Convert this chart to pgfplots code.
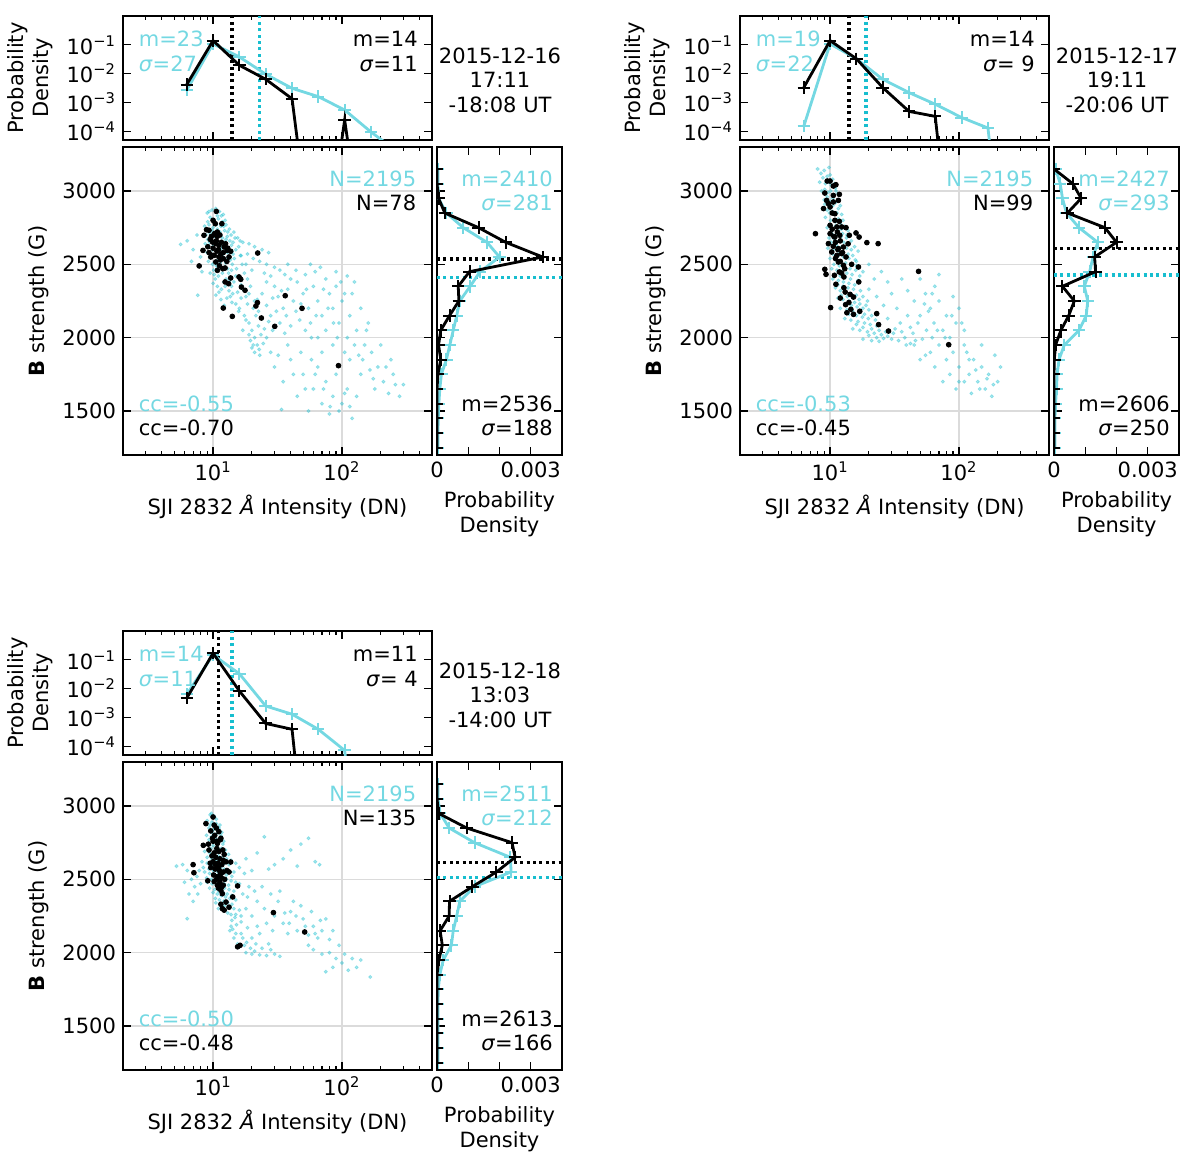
\documentclass[border=0pt]{standalone}
\usepackage{fontspec}
\setmainfont{DejaVu Sans}
\usepackage{pgfplots}
\pgfplotsset{compat=1.18}
\definecolor{cL}{RGB}{116,216,226}
\definecolor{cD}{RGB}{23,190,207}
\newcommand{\fs}{\fontsize{10.5}{12.3}\selectfont}
\newcommand{\sig}{\textit{σ}}
\begin{document}
\begin{tikzpicture}
\path[use as bounding box] (0,0) rectangle (600pt,-585pt);

%================ PANEL 1 =================
\begin{axis}[anchor=north west, at={(61.5pt,-8pt)}, scale only axis, width=154.5pt, height=62pt,
   axis line style={line width=0.8pt}, tick style={black, line width=0.6pt},
   tick align=inside, major tick length=4pt, minor tick length=2.2pt, xtick pos=both, ytick pos=both,
   clip marker paths=true, tick label style={font=\fs}, label style={font=\fs},
   xmode=log, ymode=log, xmin=2, xmax=500, ymin=5e-5, ymax=1,
   xtick={10,100}, xticklabels={,,}, minor xtick={2,3,4,5,6,7,8,9,20,30,40,50,60,70,80,90,200,300,400,500},
   ytick={1e-4,1e-3,1e-2,1e-1}, yticklabels={10\textsuperscript{−4},10\textsuperscript{−3},10\textsuperscript{−2},10\textsuperscript{−1}},
   yminorticks=false, ylabel={Probability\\Density}, ylabel style={align=center}]
\addplot[cD, line width=1.6pt, dash pattern=on 1.5pt off 1.7pt] coordinates {(23,5e-5)(23,1)};
\addplot[black, line width=1.6pt, dash pattern=on 1.5pt off 1.7pt] coordinates {(14,5e-5)(14,1)};
\addplot[cL, line width=1.4pt, mark=+, mark size=3.1pt, mark options={line width=1pt}] coordinates {(6.25,2.7e-3)(10,0.108)(16,0.038)(25.6,9.6e-3)(41,3.1e-3)(65.5,1.6e-3)(105,5.5e-4)(168,9.5e-5)(268,2e-5)};
\addplot[black, line width=1.4pt, mark=+, mark size=3.1pt, mark options={line width=1pt}] coordinates {(6.25,4.2e-3)(10,0.14)(16,0.0195)(25.6,6.4e-3)(41,1.35e-3)(65.5,1e-10)(105,2.5e-4)(168,1e-10)};
\node[cL, anchor=north west, align=left, inner sep=0, font=\fs] at (axis description cs:0.05,0.88) {m=23\\\sig=27};
\node[black, anchor=north east, align=right, inner sep=0, font=\fs] at (axis description cs:0.955,0.88) {m=14\\\sig=11};
\end{axis}
\node[align=center, font=\fs] at (250pt,-40pt) {2015-12-16\\17:11\\-18:08 UT};

\begin{axis}[anchor=north west, at={(61.5pt,-73.5pt)}, scale only axis, width=154.5pt, height=154pt,
   axis line style={line width=0.8pt}, tick style={black, line width=0.6pt},
   tick align=inside, major tick length=4pt, minor tick length=2.2pt, xtick pos=both, ytick pos=both,
   clip marker paths=true, tick label style={font=\fs}, label style={font=\fs},
   xmode=log, xmin=2, xmax=500, ymin=1200, ymax=3300,
   xtick={10,100}, xticklabels={10\textsuperscript{1},10\textsuperscript{2}}, minor xtick={2,3,4,5,6,7,8,9,20,30,40,50,60,70,80,90,200,300,400,500},
   ytick={1500,2000,2500,3000}, yticklabels={1500,2000,2500,3000}, xmajorgrids, ymajorgrids, major grid style={black!14, line width=0.7pt},
   xlabel={SJI 2832 \textit{Å} Intensity (DN)}, ylabel={\textbf{B} strength (G)}]
\addplot[only marks, mark=*, mark size=0.8pt, color=cD, opacity=0.35, mark options={draw=cD, fill=cD}] coordinates {
(9.0,2850)(9.8,2870)(10.5,2880)(11.2,2860)(12.0,2840)(9.5,2820)(10.2,2800)(11.0,2810)(11.8,2790)(12.6,2770)
(8.6,2760)(9.3,2770)(10.0,2750)(10.8,2740)(11.5,2760)(12.3,2730)(13.0,2720)(13.8,2700)
(8.8,2700)(9.5,2710)(10.3,2690)(11.0,2700)(11.8,2680)(12.6,2670)(13.5,2660)(14.3,2650)
(8.7,2640)(9.4,2650)(10.1,2630)(10.9,2640)(11.7,2620)(12.4,2610)(13.2,2600)(14.0,2590)(15.0,2600)
(9.0,2580)(9.7,2570)(10.4,2560)(11.2,2575)(12.0,2550)(12.8,2540)(13.6,2530)(14.6,2540)
(9.2,2520)(9.9,2500)(10.6,2490)(11.4,2510)(12.2,2480)(13.0,2470)(13.9,2460)(15.2,2470)
(9.5,2440)(10.2,2430)(11.0,2420)(11.8,2440)(12.6,2400)(13.5,2390)(14.5,2380)(16.0,2400)
(10.0,2370)(10.8,2350)(11.6,2330)(12.4,2350)(13.3,2320)(14.2,2300)(15.5,2310)(17.0,2330)
(10.5,2290)(11.5,2260)(12.8,2270)(14.0,2240)(15.0,2230)
(15.5,2680)(17.0,2650)(19.0,2640)(21.0,2620)(24.0,2600)(27.0,2580)(16.5,2560)(18.5,2570)(20.5,2540)(23.0,2520)
(26.0,2500)(30.0,2480)(33.0,2460)(22.0,2580)(18.0,2500)(20.0,2460)(25.0,2440)(28.0,2420)(36.0,2430)(40.0,2400)
(16.0,2200)(17.5,2150)(18.0,2280)(19.5,2350)(21.0,2250)(22.5,2180)(24.0,2300)(26.0,2220)(28.0,2150)(30.0,2350)
(32.0,2280)(35.0,2200)(38.0,2330)(42.0,2250)(45.0,2380)(50.0,2300)(55.0,2200)(60.0,2350)(47.0,2120)(40.0,2080)
(36.0,2030)(33.0,2100)(29.0,2050)(26.0,2000)(52.0,2050)(58.0,2000)(65.0,2250)(70.0,2150)(75.0,2400)(68.0,2480)
(62.0,2450)(80.0,2300)(85.0,2200)(90.0,2350)
(19.0,2100)(20.0,2050)(21.0,2000)(22.0,1950)(21.5,2150)(20.5,2200)(22.5,2080)(23.5,2020)(19.5,1980)(21.0,1900)
(23.0,1880)(20.0,1930)(24.5,1960)(18.5,2230)(22.0,2260)(24.0,2130)
(95.0,2100)(100.0,2250)(110.0,2000)(115.0,2150)(120.0,2300)(130.0,2050)(140.0,2200)(150.0,1950)(105.0,1900)
(85.0,1950)(75.0,2050)(125.0,2380)(160.0,2100)(135.0,1880)(70.0,1900)(65.0,2000)(90.0,2450)(110.0,2420)
(170.0,1900)(190.0,1800)(210.0,1700)(230.0,1620)(250.0,1750)(280.0,1600)(200.0,1950)(180.0,1650)(300.0,1680)(240.0,1850)
(30.0,1800)(35.0,1700)(40.0,1850)(45.0,1600)(50.0,1750)(55.0,1500)(60.0,1650)(65.0,1800)(70.0,1550)(75.0,1700)
(80.0,1480)(85.0,1600)(90.0,1750)(100.0,1550)(110.0,1650)(120.0,1450)(130.0,1600)(34.0,1510)(81.0,1530)(140.0,1750)
(28.0,1900)(38.0,1950)(48.0,1900)(58.0,1850)
(5.6,2636)(6.3,2660)(7.0,2600)(7.6,2289)(7.5,2700)(8.0,2550)(8.2,2450)(6.8,2520)
(9.3,2860)(10.8,2830)(11.6,2830)(12.4,2800)(9.1,2790)(10.6,2770)(12.1,2760)(13.4,2740)(14.5,2720)(9.8,2730)
(11.3,2720)(12.9,2690)(14.8,2680)(16.2,2660)(9.1,2670)(10.6,2660)(12.2,2650)(13.9,2630)(15.8,2620)(9.9,2600)
(11.4,2600)(12.9,2580)(14.3,2570)(16.3,2560)(9.4,2550)(10.9,2530)(12.5,2510)(14.1,2500)(16.8,2500)(10.1,2460)
(11.6,2480)(13.2,2440)(15.0,2420)(17.5,2440)(10.4,2400)(12.1,2380)(13.9,2350)(16.5,2360)(18.5,2400)(11.1,2310)
(13.6,2280)(16.5,2270)(19.0,2300)(12.2,2220)(15.8,2180)(18.0,2120)(17.0,2050)(19.0,2020)(20.5,1950)(22.8,1920)
(25.0,2060)(27.0,2110)(31.0,2180)(34.0,2320)(37.0,2150)(44.0,2180)(48.0,2230)(53.0,2330)(57.0,2100)(63.0,2150)
(72.0,2330)(78.0,2200)(86.0,2100)(92.0,2000)(98.0,2380)(105.0,2300)(115.0,1850)(125.0,1950)(145.0,1850)(155.0,2050)
(165.0,1780)(175.0,1720)(220.0,1800)(260.0,1680)(32.0,1880)(42.0,1750)(52.0,1650)(62.0,1750)(72.0,1650)(95.0,1500)
(105.0,1620)(115.0,1530)(26.0,2380)(29.0,2270)(38.0,2500)(44.0,2460)(52.0,2430)(57.0,2500)
};
\addplot[only marks, mark=*, mark size=1.2pt, mark options={draw=none, fill=black}] coordinates {
(10.6,2861)(10.0,2800)(10.4,2777)(11.7,2777)(8.9,2736)(9.3,2732)(8.5,2698)(10.2,2702)(10.8,2691)(9.5,2670)
(9.9,2652)(10.5,2641)(11.1,2630)(12.2,2618)(12.9,2595)(13.7,2589)(8.35,2595)(9.3,2580)(10.2,2561)(11.1,2550)
(12.0,2539)(13.3,2550)(10.5,2516)(7.8,2489)(10.8,2459)(12.4,2475)(13.7,2407)(15.9,2414)(16.4,2398)(12.4,2380)
(13.2,2368)(16.6,2345)(17.7,2323)(22.2,2577)(36.3,2286)(22.1,2239)(21.5,2216)(12.0,2202)(14.1,2145)(23.7,2134)
(30.1,2077)(49,2200)(94,1809)
(10.8,2720)(11.3,2700)(9.7,2690)(10.6,2660)(11.6,2650)(12.5,2640)(9.1,2620)(10.0,2610)(11.0,2600)(12.0,2580)
(10.7,2590)(11.5,2570)(9.6,2550)(12.8,2520)(11.2,2490)(11.9,2470)(10.3,2710)(13.0,2610)(9.9,2560)(11.4,2530)
};
\node[cL, anchor=north east, inner sep=0, font=\fs] at (axis description cs:0.95,0.925) {N=2195};
\node[black, anchor=north east, inner sep=0, font=\fs] at (axis description cs:0.95,0.845) {N=78};
\node[cL, anchor=south west, inner sep=0, font=\fs] at (axis description cs:0.05,0.14) {cc=-0.55};
\node[black, anchor=south west, inner sep=0, font=\fs] at (axis description cs:0.05,0.06) {cc=-0.70};
\end{axis}

\begin{axis}[anchor=north west, at={(218.5pt,-73.5pt)}, scale only axis, width=62.5pt, height=154pt,
   axis line style={line width=0.8pt}, tick style={black, line width=0.6pt},
   tick align=inside, major tick length=4pt, minor tick length=2.2pt, xtick pos=both, ytick pos=both,
   clip marker paths=true, tick label style={font=\fs}, label style={font=\fs}, scaled ticks=false,
   xmin=0, xmax=0.004, ymin=1200, ymax=3300,
   ytick={1500,2000,2500,3000}, yticklabels={,,,}, xtick={0,0.001,0.002,0.003}, xticklabels={0,,,0.003},
   xlabel={Probability\\Density}, xlabel style={align=center}]
\addplot[black, line width=1.6pt, dash pattern=on 1.5pt off 1.7pt] coordinates {(0,2536)(0.004,2536)};
\addplot[cD, line width=1.6pt, dash pattern=on 1.5pt off 1.7pt] coordinates {(0,2410)(0.004,2410)};
\addplot[cL, line width=1.4pt, mark=+, mark size=3.1pt, mark options={line width=1pt}] coordinates {(0.00003,3150)(0.00003,3050)(0.00005,2950)(0.0003,2850)(0.00084,2750)(0.0016,2650)(0.002,2550)(0.00138,2450)(0.00106,2350)(0.00073,2250)(0.00063,2150)(0.00052,2050)(0.00041,1950)(0.0003,1850)(0.00014,1750)(0.00009,1650)(0.00006,1550)(0.00004,1450)(0.00003,1350)(0.00003,1250)};
\addplot[black, line width=1.4pt, mark=+, mark size=3.1pt, mark options={line width=1pt}] coordinates {(0,3150)(0,3050)(0.00005,2950)(0.00025,2850)(0.00133,2750)(0.0022,2650)(0.00338,2550)(0.00104,2450)(0.00068,2350)(0.0007,2250)(0.0004,2150)(0.00012,2050)(0.00005,1950)(0.00012,1850)(0.00003,1750)(0,1650)(0,1550)(0,1450)(0,1350)(0,1250)};
\node[cL, anchor=north east, align=right, inner sep=0, font=\fs] at (axis description cs:0.93,0.925) {m=2410\\\sig=281};
\node[black, anchor=south east, align=right, inner sep=0, font=\fs] at (axis description cs:0.93,0.06) {m=2536\\\sig=188};
\end{axis}

%================ PANEL 2 =================
\begin{axis}[anchor=north west, at={(370pt,-8pt)}, scale only axis, width=154.5pt, height=62pt,
   axis line style={line width=0.8pt}, tick style={black, line width=0.6pt},
   tick align=inside, major tick length=4pt, minor tick length=2.2pt, xtick pos=both, ytick pos=both,
   clip marker paths=true, tick label style={font=\fs}, label style={font=\fs},
   xmode=log, ymode=log, xmin=2, xmax=500, ymin=5e-5, ymax=1,
   xtick={10,100}, xticklabels={,,}, minor xtick={2,3,4,5,6,7,8,9,20,30,40,50,60,70,80,90,200,300,400,500},
   ytick={1e-4,1e-3,1e-2,1e-1}, yticklabels={10\textsuperscript{−4},10\textsuperscript{−3},10\textsuperscript{−2},10\textsuperscript{−1}},
   yminorticks=false, ylabel={Probability\\Density}, ylabel style={align=center}]
\addplot[cD, line width=1.6pt, dash pattern=on 1.5pt off 1.7pt] coordinates {(19,5e-5)(19,1)};
\addplot[black, line width=1.6pt, dash pattern=on 1.5pt off 1.7pt] coordinates {(14,5e-5)(14,1)};
\addplot[cL, line width=1.4pt, mark=+, mark size=3.1pt, mark options={line width=1pt}] coordinates {(6.25,1.5e-4)(10,0.108)(16,0.033)(25.6,6.4e-3)(41,2.2e-3)(65.5,8.7e-4)(105,3.0e-4)(168,1.3e-4)(268,1e-12)};
\addplot[black, line width=1.4pt, mark=+, mark size=3.1pt, mark options={line width=1pt}] coordinates {(6.25,3.3e-3)(10,0.14)(16,0.033)(25.6,3.3e-3)(41,4.9e-4)(65.5,3.3e-4)(105,1e-12)};
\node[cL, anchor=north west, align=left, inner sep=0, font=\fs] at (axis description cs:0.05,0.88) {m=19\\\sig=22};
\node[black, anchor=north east, align=right, inner sep=0, font=\fs] at (axis description cs:0.955,0.88) {m=14\\\sig= 9};
\end{axis}
\node[align=center, font=\fs] at (558.5pt,-40pt) {2015-12-17\\19:11\\-20:06 UT};

\begin{axis}[anchor=north west, at={(370pt,-73.5pt)}, scale only axis, width=154.5pt, height=154pt,
   axis line style={line width=0.8pt}, tick style={black, line width=0.6pt},
   tick align=inside, major tick length=4pt, minor tick length=2.2pt, xtick pos=both, ytick pos=both,
   clip marker paths=true, tick label style={font=\fs}, label style={font=\fs},
   xmode=log, xmin=2, xmax=500, ymin=1200, ymax=3300,
   xtick={10,100}, xticklabels={10\textsuperscript{1},10\textsuperscript{2}}, minor xtick={2,3,4,5,6,7,8,9,20,30,40,50,60,70,80,90,200,300,400,500},
   ytick={1500,2000,2500,3000}, yticklabels={1500,2000,2500,3000}, xmajorgrids, ymajorgrids, major grid style={black!14, line width=0.7pt},
   xlabel={SJI 2832 \textit{Å} Intensity (DN)}, ylabel={\textbf{B} strength (G)}]
\addplot[only marks, mark=*, mark size=0.8pt, color=cD, opacity=0.35, mark options={draw=cD, fill=cD}] coordinates {
(8.0,3150)(8.5,3120)(9.0,3140)(9.5,3100)(10.0,3110)(10.5,3080)(8.3,3060)(9.2,3050)(10.2,3040)(11.0,3020)
(8.6,3000)(9.6,2990)(10.6,2970)(11.5,2980)(9.0,2940)(10.0,2930)(11.0,2920)(12.0,2900)(8.7,2880)(9.5,2870)
(10.4,2860)(11.3,2850)(12.3,2840)
(9.2,2820)(10.1,2800)(11.0,2790)(12.0,2780)(13.0,2760)(9.5,2750)(10.5,2740)(11.5,2730)(12.5,2710)(13.5,2700)
(9.8,2680)(10.8,2670)(11.8,2660)(12.8,2650)(14.0,2640)(15.5,2620)(9.6,2610)(10.6,2600)(11.6,2590)(12.6,2580)
(13.8,2570)(15.0,2560)(10.0,2540)(11.0,2530)(12.0,2520)(13.2,2510)(14.5,2500)(16.0,2490)(10.3,2470)(11.3,2460)
(12.3,2450)(13.5,2440)(14.8,2430)(17.0,2420)(10.5,2400)(11.6,2390)(12.7,2380)(14.0,2370)(15.5,2360)
(11.0,2340)(12.0,2320)(13.2,2310)(14.5,2300)(16.0,2290)(18.0,2280)(11.5,2270)(12.6,2260)(14.0,2250)(15.5,2240)
(17.0,2230)(19.0,2220)(12.0,2200)(13.5,2190)(15.0,2180)(16.8,2170)(18.5,2160)(21.0,2150)(13.0,2130)(14.5,2120)
(16.5,2110)(18.5,2100)(20.5,2090)(23.0,2080)(15.0,2060)(17.0,2050)(19.5,2040)(22.0,2030)(25.0,2020)(28.0,2010)
(18.0,1990)(21.0,1980)(24.0,1975)(30.0,1990)(34.0,1980)(38.0,2000)(42.0,1960)
(16.0,2520)(18.0,2450)(20.0,2500)(22.0,2400)(25.0,2450)(28.0,2380)(20.0,2330)(23.0,2280)(26.0,2220)(30.0,2300)
(33.0,2200)(36.0,2400)(40.0,2320)(45.0,2250)(50.0,2400)(55.0,2300)(60.0,2200)(65.0,2350)(70.0,2250)(80.0,2150)
(90.0,2280)(100.0,2200)(48.0,2100)(56.0,2050)(64.0,2100)(75.0,2050)(85.0,2000)(95.0,2100)(110.0,2050)(35.0,2100)
(40.0,2150)(28.0,2130)(32.0,2060)(44.0,2030)(52.0,1990)(58.0,2180)(70.0,2430)(62.0,2000)
(60.0,1900)(70.0,1950)(80.0,1850)(90.0,1900)(100.0,1800)(110.0,1950)(120.0,1750)(130.0,1850)(140.0,1700)(150.0,1800)
(160.0,1650)(170.0,1750)(180.0,1600)(200.0,1700)(210.0,1800)(75.0,1700)(85.0,1750)(95.0,1650)(110.0,1700)(125.0,1620)
(50.0,1850)(45.0,1950)(190.0,1880)(150.0,1950)
(9.8,3160)(8.8,3090)(9.8,3060)(10.8,3050)(9.1,3010)(10.1,3000)(11.1,3000)(9.5,2960)(10.5,2950)(11.5,2940)
(9.1,2910)(10.5,2900)(11.6,2880)(9.9,2850)(11.6,2810)(12.6,2800)(9.9,2770)(11.0,2760)(12.2,2740)(13.8,2730)
(10.3,2710)(11.1,2700)(12.2,2690)(13.4,2680)(14.6,2660)(10.2,2650)(11.2,2630)(12.3,2620)(13.4,2610)(14.6,2600)
(16.5,2590)(10.5,2570)(11.6,2560)(12.7,2550)(14.0,2540)(15.7,2530)(10.7,2500)(11.8,2490)(13.0,2480)(14.3,2470)
(15.8,2460)(11.0,2430)(12.0,2420)(13.1,2410)(14.4,2400)(16.5,2390)(11.5,2360)(12.6,2350)(13.8,2340)(15.2,2330)
(17.2,2320)(12.2,2290)(13.6,2280)(15.0,2270)(16.8,2260)(19.5,2250)(13.0,2230)(14.6,2220)(16.2,2210)(18.0,2200)
(20.0,2190)(14.0,2160)(16.0,2150)(17.8,2140)(19.8,2130)(22.5,2120)(16.0,2090)(18.0,2070)(21.0,2060)(24.0,2050)
(27.0,2040)(20.0,2015)(23.0,2000)(26.0,1995)(31.0,2030)(36.0,2040)(39.0,1950)(46.0,1980)(42.0,2070)(50.0,2150)
(54.0,2230)(62.0,2300)(68.0,2050)(78.0,2000)(88.0,2150)(105.0,2100)(115.0,1900)(135.0,1780)(145.0,1650)(165.0,1720)
(185.0,1680)(55.0,1880)(65.0,1800)(100.0,1700)(120.0,1850)
};
\addplot[only marks, mark=*, mark size=1.2pt, mark options={draw=none, fill=black}] coordinates {
(9.5,3068)(10,3068)(10.6,3034)(11.1,3043)(9.1,2986)(10.6,2970)(11.8,2977)(9.4,2936)(9.7,2914)(10.6,2925)
(11.6,2936)(8.9,2880)(10,2891)(10.9,2845)(11.8,2793)(10,2766)(11.3,2755)(12.3,2755)(13.3,2750)(7.7,2709)
(10,2709)(10.9,2686)(11.9,2698)(14.1,2698)(15.9,2714)(16.8,2686)(19.3,2648)(23.6,2641)(9.7,2641)(10.6,2623)
(11.6,2607)(12.7,2618)(10.3,2584)(11.3,2561)(12.3,2573)(13.3,2550)(11.6,2516)(12.7,2493)(14.7,2500)(16.6,2482)
(9.1,2466)(9.3,2432)(10.8,2425)(11.8,2448)(12.8,2414)(16.7,2380)(48.6,2452)(11.1,2364)(13.1,2311)(14.3,2295)
(15.2,2277)(12.0,2270)(13.2,2225)(14.5,2193)(13.5,2170)(15.2,2159)(10.1,2205)(17.0,2180)(23.0,2164)(23.8,2089)
(28.4,2045)(83.3,1952)
(10.4,2850)(10.9,2800)(11.4,2720)(10.4,2740)(12.0,2660)(11.0,2650)(12.5,2580)(11.0,2540)(12.0,2520)(13.0,2470)
(12.3,2440)(11.5,2600)(10.7,2690)(13.8,2640)(12.8,2340)(14.0,2240)
};
\node[cL, anchor=north east, inner sep=0, font=\fs] at (axis description cs:0.95,0.925) {N=2195};
\node[black, anchor=north east, inner sep=0, font=\fs] at (axis description cs:0.95,0.845) {N=99};
\node[cL, anchor=south west, inner sep=0, font=\fs] at (axis description cs:0.05,0.14) {cc=-0.53};
\node[black, anchor=south west, inner sep=0, font=\fs] at (axis description cs:0.05,0.06) {cc=-0.45};
\end{axis}

\begin{axis}[anchor=north west, at={(527pt,-73.5pt)}, scale only axis, width=62.5pt, height=154pt,
   axis line style={line width=0.8pt}, tick style={black, line width=0.6pt},
   tick align=inside, major tick length=4pt, minor tick length=2.2pt, xtick pos=both, ytick pos=both,
   clip marker paths=true, tick label style={font=\fs}, label style={font=\fs}, scaled ticks=false,
   xmin=0, xmax=0.004, ymin=1200, ymax=3300,
   ytick={1500,2000,2500,3000}, yticklabels={,,,}, xtick={0,0.001,0.002,0.003}, xticklabels={0,,,0.003},
   xlabel={Probability\\Density}, xlabel style={align=center}]
\addplot[black, line width=1.6pt, dash pattern=on 1.5pt off 1.7pt] coordinates {(0,2606)(0.004,2606)};
\addplot[cD, line width=1.6pt, dash pattern=on 1.5pt off 1.7pt] coordinates {(0,2427)(0.004,2427)};
\addplot[cL, line width=1.4pt, mark=+, mark size=3.1pt, mark options={line width=1pt}] coordinates {(0.00005,3150)(0.0002,3050)(0.00027,2950)(0.0004,2850)(0.0008,2750)(0.0014,2650)(0.00125,2550)(0.00114,2450)(0.00097,2350)(0.00108,2250)(0.00103,2150)(0.0008,2050)(0.00033,1950)(0.00016,1850)(0.0001,1750)(0.00008,1650)(0.00005,1550)(0.00003,1450)(0.00003,1350)(0.00003,1250)};
\addplot[black, line width=1.4pt, mark=+, mark size=3.1pt, mark options={line width=1pt}] coordinates {(0,3150)(0.0006,3050)(0.00087,2950)(0.00043,2850)(0.00163,2750)(0.002,2650)(0.0013,2550)(0.00133,2450)(0.00027,2350)(0.00065,2250)(0.00047,2150)(0.00022,2050)(0.00005,1950)(0.00001,1850)(0,1750)(0,1650)(0,1550)(0,1450)(0,1350)(0,1250)};
\node[cL, anchor=north east, align=right, inner sep=0, font=\fs] at (axis description cs:0.93,0.925) {m=2427\\\sig=293};
\node[black, anchor=south east, align=right, inner sep=0, font=\fs] at (axis description cs:0.93,0.06) {m=2606\\\sig=250};
\end{axis}

%================ PANEL 3 =================
\begin{axis}[anchor=north west, at={(61.5pt,-315.5pt)}, scale only axis, width=154.5pt, height=62pt,
   axis line style={line width=0.8pt}, tick style={black, line width=0.6pt},
   tick align=inside, major tick length=4pt, minor tick length=2.2pt, xtick pos=both, ytick pos=both,
   clip marker paths=true, tick label style={font=\fs}, label style={font=\fs},
   xmode=log, ymode=log, xmin=2, xmax=500, ymin=5e-5, ymax=1,
   xtick={10,100}, xticklabels={,,}, minor xtick={2,3,4,5,6,7,8,9,20,30,40,50,60,70,80,90,200,300,400,500},
   ytick={1e-4,1e-3,1e-2,1e-1}, yticklabels={10\textsuperscript{−4},10\textsuperscript{−3},10\textsuperscript{−2},10\textsuperscript{−1}},
   yminorticks=false, ylabel={Probability\\Density}, ylabel style={align=center}]
\addplot[cD, line width=1.6pt, dash pattern=on 1.5pt off 1.7pt] coordinates {(14,5e-5)(14,1)};
\addplot[black, line width=1.6pt, dash pattern=on 1.5pt off 1.7pt] coordinates {(11,5e-5)(11,1)};
\addplot[cL, line width=1.4pt, mark=+, mark size=3.1pt, mark options={line width=1pt}] coordinates {(6.25,6.4e-3)(10,0.148)(16,0.033)(25.6,2.5e-3)(41,1.3e-3)(65.5,3.9e-4)(105,7.2e-5)(168,1e-12)};
\addplot[black, line width=1.4pt, mark=+, mark size=3.1pt, mark options={line width=1pt}] coordinates {(6.25,4.7e-3)(10,0.17)(16,8.3e-3)(25.6,6.2e-4)(41,3.9e-4)(65.5,1e-12)};
\node[cL, anchor=north west, align=left, inner sep=0, font=\fs] at (axis description cs:0.05,0.88) {m=14\\\sig=11};
\node[black, anchor=north east, align=right, inner sep=0, font=\fs] at (axis description cs:0.955,0.88) {m=11\\\sig= 4};
\end{axis}
\node[align=center, font=\fs] at (250pt,-347.5pt) {2015-12-18\\13:03\\-14:00 UT};

\begin{axis}[anchor=north west, at={(61.5pt,-381pt)}, scale only axis, width=154.5pt, height=154pt,
   axis line style={line width=0.8pt}, tick style={black, line width=0.6pt},
   tick align=inside, major tick length=4pt, minor tick length=2.2pt, xtick pos=both, ytick pos=both,
   clip marker paths=true, tick label style={font=\fs}, label style={font=\fs},
   xmode=log, xmin=2, xmax=500, ymin=1200, ymax=3300,
   xtick={10,100}, xticklabels={10\textsuperscript{1},10\textsuperscript{2}}, minor xtick={2,3,4,5,6,7,8,9,20,30,40,50,60,70,80,90,200,300,400,500},
   ytick={1500,2000,2500,3000}, yticklabels={1500,2000,2500,3000}, xmajorgrids, ymajorgrids, major grid style={black!14, line width=0.7pt},
   xlabel={SJI 2832 \textit{Å} Intensity (DN)}, ylabel={\textbf{B} strength (G)}]
\addplot[only marks, mark=*, mark size=0.8pt, color=cD, opacity=0.35, mark options={draw=cD, fill=cD}] coordinates {
(9.5,2940)(10.2,2930)(9.0,2900)(9.8,2890)(10.6,2880)(11.3,2870)(9.3,2850)(10.1,2840)(10.9,2830)(11.7,2820)
(8.9,2800)(9.7,2790)(10.5,2780)(11.3,2770)(12.1,2760)(9.2,2740)(10.0,2730)(10.8,2720)(11.6,2710)(12.5,2700)
(8.6,2690)(9.4,2680)(10.2,2670)(11.0,2660)(11.8,2650)(12.7,2640)(13.8,2630)(8.2,2620)(9.0,2610)(9.8,2600)
(10.6,2590)(11.4,2580)(12.2,2570)(13.2,2560)(14.5,2550)(16.0,2580)(7.8,2560)(8.6,2550)(9.4,2540)(10.2,2530)
(11.0,2520)(11.8,2510)(12.7,2500)(13.8,2490)(15.0,2480)(9.0,2480)(9.8,2470)(10.6,2460)(11.4,2450)(12.3,2440)
(13.3,2430)(14.5,2420)(10.0,2410)(10.8,2400)(11.6,2390)(12.5,2380)(13.5,2370)(15.0,2360)(10.5,2340)(11.4,2330)
(12.3,2320)(13.3,2310)(14.5,2300)(16.0,2290)
(5.2,2590)(5.8,2600)(6.3,2560)(6.8,2500)(7.2,2450)(6.5,2400)(7.0,2350)(6.3,2232)(7.5,2520)(6.0,2480)
(18.0,2640)(22.0,2680)(25.0,2790)(30.0,2600)(35.0,2640)(40.0,2700)(48.0,2740)(55.0,2780)(62.0,2620)(67.0,2600)
(20.0,2560)(27.0,2570)(45.0,2590)
(13.0,2270)(14.0,2220)(15.0,2260)(16.5,2210)(18.0,2300)(20.0,2250)(22.0,2350)(25.0,2300)(28.0,2400)(32.0,2350)
(17.0,2400)(19.0,2450)(24.0,2450)(13.5,2150)(14.5,2100)(15.5,2060)(16.5,2130)(17.5,2050)(18.5,2170)(13.8,2180)
(15.0,2130)(16.0,2040)(20.0,2100)(22.0,2180)(24.0,2030)
(18.0,2000)(20.0,1990)(23.0,1985)(26.0,1980)(30.0,1990)(33.0,1975)(21.0,2010)(28.0,2020)
(30.0,2250)(35.0,2200)(40.0,2280)(45.0,2150)(50.0,2230)(55.0,2120)(60.0,2180)(65.0,2100)(70.0,2150)(80.0,2090)
(38.0,2130)(42.0,2350)(48.0,2320)(58.0,2280)(75.0,2230)(33.0,2420)
(60.0,2020)(70.0,1990)(80.0,2000)(90.0,1960)(100.0,1930)(112.0,1880)(130.0,1900)(166.0,1834)(120.0,1960)(85.0,1900)
(75.0,1870)(140.0,1950)(55.0,2050)
(9.7,2950)(10.6,2910)(9.5,2870)(10.4,2860)(11.1,2850)(9.8,2820)(10.6,2810)(11.5,2800)(9.3,2770)(10.2,2760)
(11.0,2750)(11.9,2740)(9.6,2710)(10.4,2700)(11.3,2690)(12.1,2680)(13.2,2670)(9.0,2650)(9.8,2640)(10.6,2630)
(11.5,2620)(12.3,2610)(13.3,2600)(15.0,2610)(8.4,2580)(9.3,2570)(10.1,2560)(10.9,2550)(11.8,2540)(12.7,2530)
(14.0,2520)(8.9,2510)(9.7,2500)(10.5,2490)(11.3,2480)(12.2,2470)(13.2,2460)(9.4,2440)(10.3,2430)(11.1,2420)
(12.0,2410)(12.9,2400)(14.0,2390)(10.4,2370)(11.2,2360)(12.1,2350)(13.0,2340)(14.0,2330)(11.0,2300)(12.0,2290)
(13.8,2260)(14.8,2240)(16.5,2250)(14.2,2160)(15.2,2190)(17.0,2100)(18.2,2070)(19.5,2030)(21.5,2060)(23.0,2130)
(26.0,2200)(27.0,2060)(29.0,2150)(36.0,2270)(39.0,2200)(44.0,2250)(52.0,2180)(62.0,2130)(68.0,2220)(85.0,2150)
(95.0,2050)(105.0,1990)(18.5,2380)(21.0,2420)(16.0,2470)(17.5,2540)(7.6,2400)(8.0,2470)
};
\addplot[only marks, mark=*, mark size=1.2pt, mark options={draw=none, fill=black}] coordinates {
(10.0,2925)(8.8,2880)(10.2,2870)(10.6,2850)(9.6,2830)(11.1,2825)(10.3,2800)(9.9,2780)(10.7,2760)(11.4,2770)
(8.4,2732)(9.2,2740)(10.0,2760)(10.8,2745)(11.5,2780)
(9.3,2700)(10.2,2680)(11.1,2690)(11.9,2700)(9.8,2660)(10.5,2650)(11.3,2640)(12.0,2630)(10.0,2620)(10.9,2610)
(11.7,2600)(12.6,2620)(13.7,2618)(13.3,2550)(7.0,2600)(7.1,2545)(9.1,2490)(10.2,2485)(10.8,2460)(11.5,2425)
(11.8,2402)(9.6,2580)(10.4,2570)(11.2,2560)(12.0,2550)(10.1,2530)(10.9,2520)(11.6,2510)(12.3,2500)(10.6,2500)
(11.3,2480)(12.0,2460)(11.0,2440)(11.7,2450)(15.5,2455)(14.2,2380)(12.6,2345)(11.8,2300)(12.2,2290)(13.3,2310)
(11.5,2330)(29.4,2273)(51.4,2141)(15.5,2040)(16.2,2050)
(10.4,2600)(11.5,2540)(12.8,2560)(9.5,2610)(10.7,2710)(11.0,2580)(12.2,2670)
};
\node[cL, anchor=north east, inner sep=0, font=\fs] at (axis description cs:0.95,0.925) {N=2195};
\node[black, anchor=north east, inner sep=0, font=\fs] at (axis description cs:0.95,0.845) {N=135};
\node[cL, anchor=south west, inner sep=0, font=\fs] at (axis description cs:0.05,0.14) {cc=-0.50};
\node[black, anchor=south west, inner sep=0, font=\fs] at (axis description cs:0.05,0.06) {cc=-0.48};
\end{axis}

\begin{axis}[anchor=north west, at={(218.5pt,-381pt)}, scale only axis, width=62.5pt, height=154pt,
   axis line style={line width=0.8pt}, tick style={black, line width=0.6pt},
   tick align=inside, major tick length=4pt, minor tick length=2.2pt, xtick pos=both, ytick pos=both,
   clip marker paths=true, tick label style={font=\fs}, label style={font=\fs}, scaled ticks=false,
   xmin=0, xmax=0.004, ymin=1200, ymax=3300,
   ytick={1500,2000,2500,3000}, yticklabels={,,,}, xtick={0,0.001,0.002,0.003}, xticklabels={0,,,0.003},
   xlabel={Probability\\Density}, xlabel style={align=center}]
\addplot[black, line width=1.6pt, dash pattern=on 1.5pt off 1.7pt] coordinates {(0,2613)(0.004,2613)};
\addplot[cD, line width=1.6pt, dash pattern=on 1.5pt off 1.7pt] coordinates {(0,2511)(0.004,2511)};
\addplot[cL, line width=1.4pt, mark=+, mark size=3.1pt, mark options={line width=1pt}] coordinates {(0.00003,3150)(0.00003,3050)(0.0001,2950)(0.00039,2850)(0.0012,2750)(0.00235,2650)(0.00237,2550)(0.0012,2450)(0.00073,2350)(0.00063,2250)(0.00052,2150)(0.00046,2050)(0.0002,1950)(0.00009,1850)(0.00004,1750)(0.00003,1650)(0.00003,1550)(0.00003,1450)(0.00003,1350)(0.00003,1250)};
\addplot[black, line width=1.4pt, mark=+, mark size=3.1pt, mark options={line width=1pt}] coordinates {(0,3150)(0,3050)(0.00005,2950)(0.00095,2850)(0.0024,2750)(0.0025,2650)(0.0019,2550)(0.00113,2450)(0.0004,2350)(0.00039,2250)(0.0001,2150)(0.00017,2050)(0.00006,1950)(0,1850)(0,1750)(0,1650)(0,1550)(0,1450)(0,1350)(0,1250)};
\node[cL, anchor=north east, align=right, inner sep=0, font=\fs] at (axis description cs:0.93,0.925) {m=2511\\\sig=212};
\node[black, anchor=south east, align=right, inner sep=0, font=\fs] at (axis description cs:0.93,0.06) {m=2613\\\sig=166};
\end{axis}
\end{tikzpicture}
\end{document}
